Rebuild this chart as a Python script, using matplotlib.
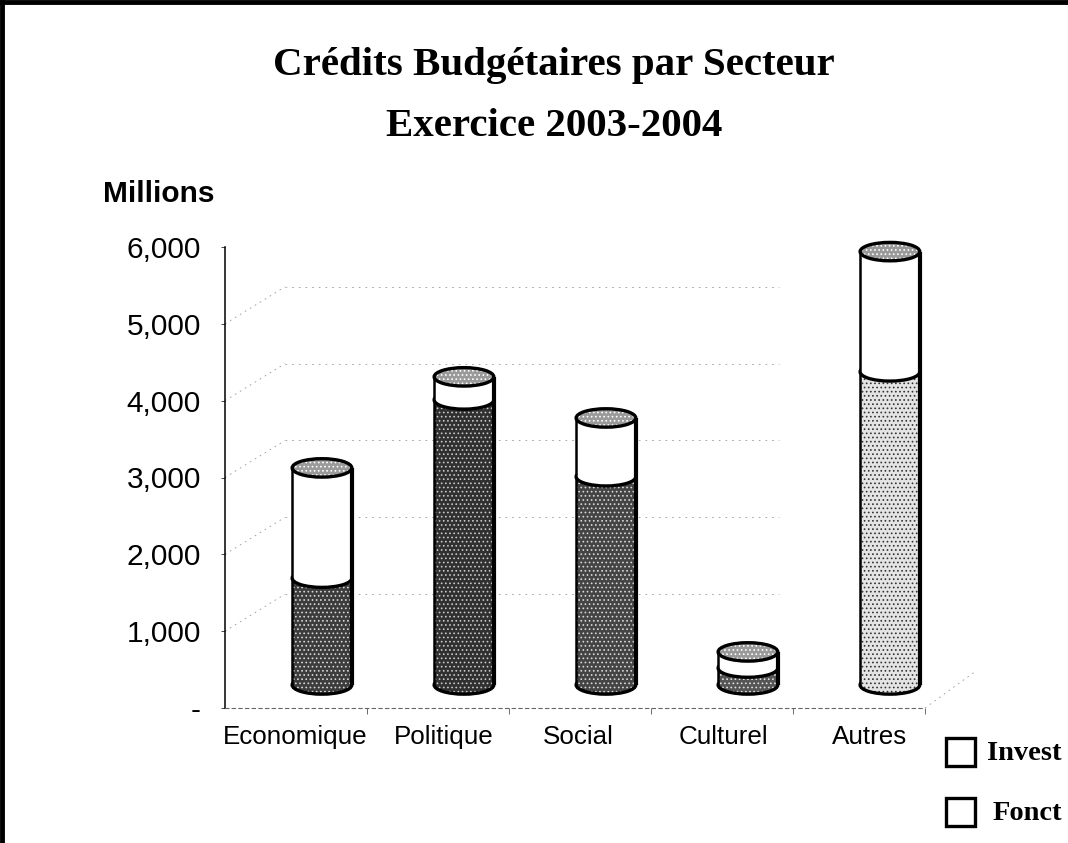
import matplotlib
matplotlib.use("Agg")
import matplotlib.pyplot as plt
from matplotlib.patches import Ellipse, Rectangle

categories = ["Economique", "Politique", "Social", "Culturel", "Autres"]
fonct = [1390, 3710, 2710, 220, 4075]
invest = [1435, 300, 765, 210, 1565]
fonct_fill = ["#3c3c3c", "#303030", "#444444", "#555555", "#e4e4e4"]
fonct_dots = ["#d8d8d8", "#c8c8c8", "#d8d8d8", "#e0e0e0", "#333333"]
yticks = [1000, 2000, 3000, 4000, 5000, 6000]
ytick_labels = ["1,000", "2,000", "3,000", "4,000", "5,000", "6,000"]

W, H = 1068, 843
SERIF = "Liberation Serif"
SANS = "Liberation Sans"

BASE = 300       # floor of the cylinders above the axis line
SHIFT = 0.183    # cylinders sit back from the tick centre
BAR_W = 0.42
ELL_H = 240

fig = plt.figure(figsize=(W / 100, H / 100), dpi=100)
ax = fig.add_axes([225 / W, 1 - 708 / H, 700 / W, 461 / H])
ax.set_xlim(-0.5, 4.43)
ax.set_ylim(0, 6000)
ax.patch.set_alpha(0)

for s in ["top", "right"]:
    ax.spines[s].set_visible(False)
ax.spines["left"].set_linewidth(1.1)
ax.spines["bottom"].set_linewidth(0.8)
ax.spines["bottom"].set_linestyle((0, (3, 3)))
ax.spines["bottom"].set_color("#666666")

ax.set_yticks([0] + yticks)
ax.set_yticklabels(["-"] + ytick_labels, fontname=SANS, fontsize=21.5)
ax.tick_params(axis="y", length=3, width=0.5, pad=14.4)
ax.set_xticks([0.5, 1.5, 2.5, 3.5, 4.43])
ax.set_xticklabels([])
ax.tick_params(axis="x", length=4, width=0.6, color="#555555")

# back wall, dotted and very faint like the scan
dx, dy = 60 / 142, 37 / 76.8 * 1000
grid_c = "#999999"
for t in yticks[:-1]:
    ax.plot([-0.5, -0.5 + dx], [t, t + dy], color=grid_c, lw=0.6, ls=(0, (2, 5)), zorder=1)
    ax.plot([-0.5 + dx, 3.4], [t + dy, t + dy], color=grid_c, lw=0.6, ls=(0, (2, 6)), zorder=1)
ax.plot([4.43, 4.43 + dx * 0.85], [0, dy], color=grid_c, lw=0.6, ls=(0, (2, 5)), clip_on=False)

plt.rcParams["hatch.linewidth"] = 0.7


def ends(x, y, face, hatch=None, dots="black", z=3):
    # fill and outline are separate so the hatch colour can differ from the edge
    ax.add_patch(Ellipse((x, y), BAR_W, ELL_H, facecolor=face, edgecolor=dots, lw=0,
                         hatch=hatch, zorder=z, clip_on=False))
    ax.add_patch(Ellipse((x, y), BAR_W, ELL_H, fill=False, edgecolor="black", lw=2.4,
                         zorder=z + 0.01, clip_on=False))


for i, name in enumerate(categories):
    x = i + SHIFT
    top_f = BASE + fonct[i]
    top_i = top_f + invest[i]
    # lower part
    ends(x, BASE, fonct_fill[i], "....", fonct_dots[i], 3)
    ax.bar(x, fonct[i], BAR_W, bottom=BASE, color=fonct_fill[i], edgecolor=fonct_dots[i],
           hatch="....", lw=0, zorder=3.1)
    # upper part
    ends(x, top_f, "white", z=3.2)
    ax.bar(x, invest[i], BAR_W, bottom=top_f, color="white", lw=0, zorder=3.3)
    ax.vlines([x - BAR_W / 2, x + BAR_W / 2], BASE, top_i, color="black", lw=[1.8, 3], zorder=3.4)
    ends(x, top_i, "#9a9a9a", "....", "white", 3.5)

# category labels do not sit quite on the tick centres in the source
label_px = [295, 444, 578, 723, 870]
for name, px in zip(categories, label_px):
    fig.text(px / W, 1 - 737 / H, name, ha="center", va="center", fontname=SANS, fontsize=18.7)

fig.text(554 / W, 1 - 65 / H, "Crédits Budgétaires par Secteur", ha="center", va="center",
         fontname=SERIF, fontweight="bold", fontsize=29.5)
fig.text(554 / W, 1 - 126 / H, "Exercice 2003-2004", ha="center", va="center",
         fontname=SERIF, fontweight="bold", fontsize=29.5)
fig.text(103 / W, 1 - 194 / H, "Millions", ha="left", va="center",
         fontname=SANS, fontweight="bold", fontsize=21.5)

# legend swatches are empty boxes in the scan
for label, py, tx in [("Invest", 752, 987), ("Fonct", 812, 993)]:
    fig.add_artist(Rectangle((946 / W, 1 - (py + 14) / H), 29 / W, 28 / H, transform=fig.transFigure,
                             facecolor="white", edgecolor="black", lw=2.4))
    fig.text(tx / W, 1 - (py + 2) / H, label, ha="left", va="center", fontname=SERIF,
             fontweight="bold", fontsize=20.5)

# page frame, top and left only
fig.add_artist(plt.Line2D([0, 1], [1 - 2 / H, 1 - 2 / H], color="black", lw=3.5))
fig.add_artist(plt.Line2D([2 / W, 2 / W], [0, 1], color="black", lw=3.5))

fig.savefig("out.png", dpi=100)
